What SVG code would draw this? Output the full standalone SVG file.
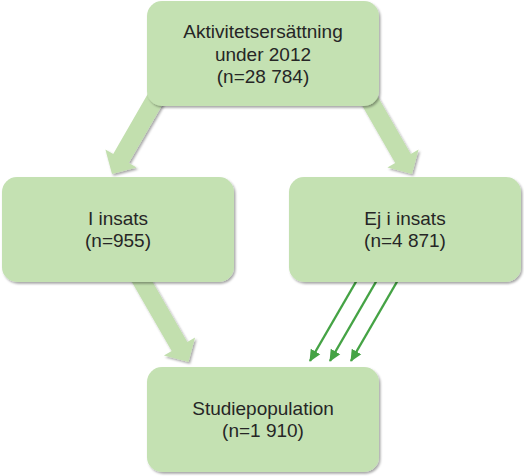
<svg xmlns="http://www.w3.org/2000/svg" width="524" height="476" viewBox="0 0 524 476">
  <style>
    .box { fill: #c4e1b2; filter: url(#shadow); }
    .block { fill: #c2dfae; filter: url(#shadow); }
    .thin { stroke: #45a345; stroke-width: 2.4; fill: none; marker-end: url(#head); }
    text { font-family: "Liberation Sans", Arial, sans-serif; font-size: 19px; fill: #262626; text-anchor: middle; }
  </style>
  <defs>
    <filter id="shadow" x="-10%" y="-10%" width="130%" height="130%">
      <feDropShadow dx="1.5" dy="1.8" stdDeviation="1.2" flood-color="#000" flood-opacity="0.35"/>
    </filter>
    <marker id="head" markerUnits="userSpaceOnUse" markerWidth="12" markerHeight="12" viewBox="0 0 12 12" refX="11" refY="6" orient="auto">
      <path d="M0,0.5 L12,6 L0,11.5 Z" fill="#45a345"/>
    </marker>
  </defs>

  <g id="connectors">
    <polygon class="block" points="153.2,84.6 113.2,153.9 105.4,149.4 112,174 136.6,167.4 128.8,162.9 168.8,93.6"/>
    <polygon class="block" points="370.8,84.6 410.8,153.9 418.6,149.4 412,174 387.4,167.4 395.2,162.9 355.2,93.6"/>
    <polygon class="block" points="126.7,273 171.7,350.9 163.9,355.4 188.5,362 195.1,337.4 187.3,341.9 142.3,264"/>
    <line class="thin" x1="357" y1="280" x2="310" y2="361"/>
    <line class="thin" x1="377" y1="280" x2="330" y2="361"/>
    <line class="thin" x1="398" y1="280" x2="351" y2="361"/>
  </g>

  <g id="node-top">
    <rect class="box" x="147" y="1" width="232" height="105" rx="15"/>
    <text x="263" y="38">Aktivitetsersättning</text>
    <text x="263" y="61">under 2012</text>
    <text x="263" y="83">(n=28 784)</text>
  </g>

  <g id="node-left">
    <rect class="box" x="2" y="177" width="232" height="105" rx="15"/>
    <text x="118" y="225">I insats</text>
    <text x="118" y="247">(n=955)</text>
  </g>

  <g id="node-right">
    <rect class="box" x="289" y="177" width="232" height="105" rx="15"/>
    <text x="405" y="225">Ej i insats</text>
    <text x="405" y="247">(n=4 871)</text>
  </g>

  <g id="node-bottom">
    <rect class="box" x="147" y="367" width="232" height="105" rx="15"/>
    <text x="263" y="415">Studiepopulation</text>
    <text x="263" y="437">(n=1 910)</text>
  </g>
</svg>
